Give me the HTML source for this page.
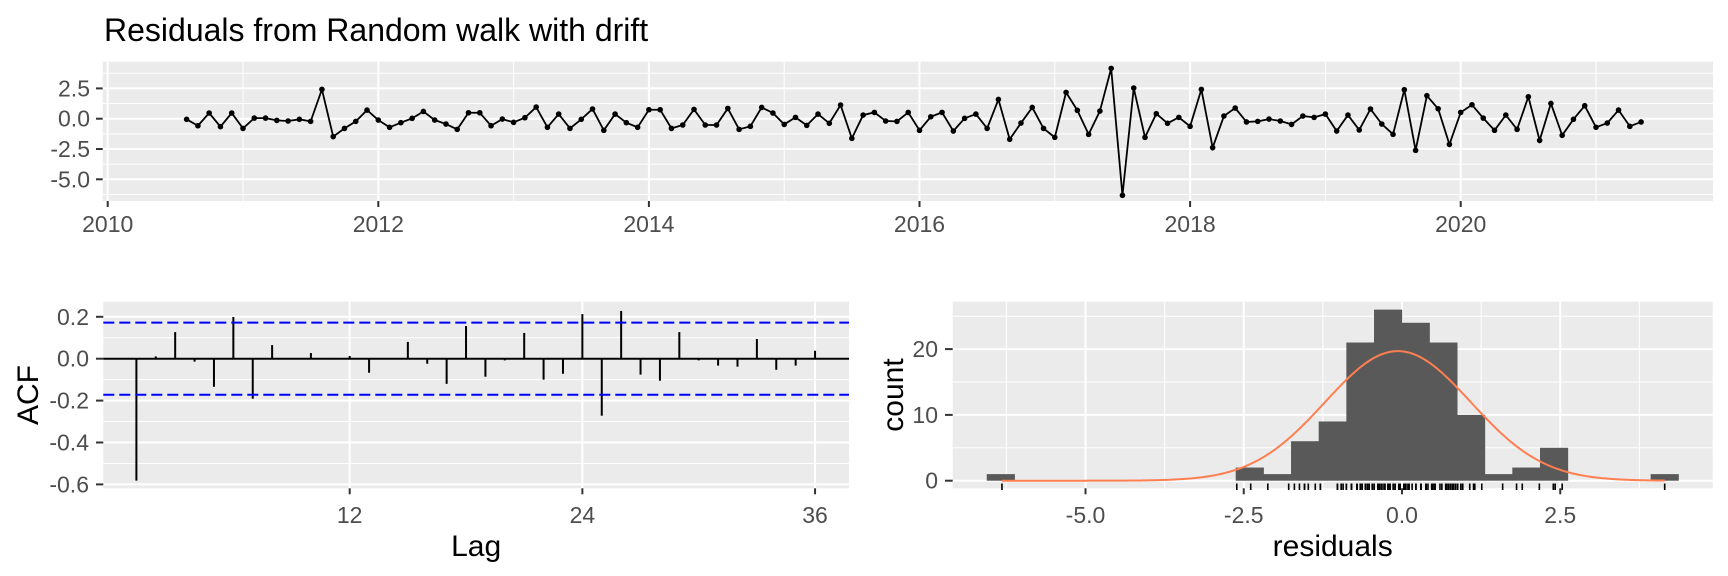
<!DOCTYPE html>
<html><head><meta charset="utf-8"><style>
html,body{margin:0;padding:0;background:#fff;}
svg{display:block;font-family:"Liberation Sans",Arial,sans-serif;}
</style></head><body>
<svg id="chart" width="1728" height="576" viewBox="0 0 1728 576" xmlns="http://www.w3.org/2000/svg">
<rect x="0" y="0" width="1728" height="576" fill="#fff"/>
<text x="104" y="41" font-size="32" fill="#000">Residuals from Random walk with drift</text>
<g id="top"></g><g id="acf"></g><g id="hist"></g>
</svg>
<script>
const residuals = [-0.05,-0.58,0.47,-0.66,0.47,-0.8,0.05,0.05,-0.14,-0.19,-0.05,-0.22,2.42,-1.48,-0.8,-0.22,0.71,-0.11,-0.71,-0.33,0.03,0.6,-0.11,-0.44,-0.88,0.49,0.49,-0.58,-0.03,-0.3,0.08,0.96,-0.71,0.38,-0.8,-0.05,0.8,-0.96,0.38,-0.33,-0.71,0.74,0.74,
-0.8,-0.52,0.77,-0.52,-0.52,0.85,-0.88,-0.63,0.93,0.47,-0.47,0.11,-0.55,0.38,-0.38,1.13,-1.62,0.3,0.52,-0.19,-0.22,0.52,-0.96,0.16,0.52,-1.02,0.03,0.38,-0.8,1.59,-1.7,-0.36,0.93,-0.8,-1.54,2.17,0.69,-1.29,0.63,4.15,-6.32,2.53,-1.54,0.41,-0.38,0.11,
-0.63,2.42,-2.39,0.22,0.88,-0.27,-0.22,-0.03,-0.19,-0.47,0.22,0.11,0.38,-1.02,0.3,-0.93,0.8,-0.44,-1.29,2.39,-2.61,1.9,0.82,-2.12,0.52,1.15,0.05,-0.96,0.3,-0.88,1.81,-1.79,1.26,-1.37,-0.05,1.07,-0.71,-0.36,0.71,-0.63,-0.27];
const startYear = 2010 + 7/12;
const yearTicks = [2010,2012,2014,2016,2018,2020];
const residTicks = [2.5,0,-2.5,-5];
const acfValues = [-0.582,0.011,0.127,-0.014,-0.134,0.199,-0.191,0.065,0.003,0.027,-0.004,0.013,-0.067,0.002,0.08,-0.024,-0.12,0.156,-0.086,-0.008,0.123,-0.1,-0.072,0.213,-0.272,0.228,-0.076,-0.105,0.127,-0.008,-0.033,-0.038,0.094,-0.053,-0.033,0.038];
const acfCI = 0.172;
const acfYTicks = [0.2,0,-0.2,-0.4,-0.6];
const lagTicks = [12,24,36];
const binStart = -6.56;
const binWidth = 0.437;
const binCounts = [1,0,0,0,0,0,0,0,0,2,1,6,9,21,26,24,21,10,1,2,5,0,0,0,1];
const countTicks = [0,10,20];
const residAxisTicks = [-5,-2.5,0,2.5];

const NS="http://www.w3.org/2000/svg";
function mk(parent,tag,attrs){const e=document.createElementNS(NS,tag);for(const k in attrs)e.setAttribute(k,attrs[k]);parent.appendChild(e);return e;}
function txt(parent,x,y,s,size,fill,anchor){const t=mk(parent,'text',{x:x,y:y,'font-size':size,fill:fill,'text-anchor':anchor});t.textContent=s;return t;}
const fmt1=v=>v.toFixed(1);
const TICK=23, TITLE=30;

// ---------- TOP PANEL ----------
(function(){
const g=document.getElementById('top');
const L=102.7,T=61.7,R=1713,B=201;
const sx=t=>107.7+(t-2010)*135.3;
const sy=v=>118.7-v*12.12;
const bg=mk(g,'rect',{x:L,y:T,width:R-L,height:B-T,fill:'#ebebeb'});


[3.75,1.25,-1.25,-3.75,-6.25].forEach(v=>mk(g,'line',{x1:L,x2:R,y1:sy(v),y2:sy(v),stroke:'#fff','stroke-width':1}));
[2011,2013,2015,2017,2019,2021].forEach(v=>mk(g,'line',{x1:sx(v),x2:sx(v),y1:T,y2:B,stroke:'#fff','stroke-width':1}));
residTicks.forEach(v=>{
 mk(g,'line',{x1:L,x2:R,y1:sy(v),y2:sy(v),stroke:'#fff','stroke-width':2});
 mk(g,'line',{x1:96,x2:L,y1:sy(v),y2:sy(v),stroke:'#333','stroke-width':2});
 const t=txt(g,90,sy(v)+8,fmt1(v),TICK,'#4d4d4d','end');
 
 
});
yearTicks.forEach(v=>{
 mk(g,'line',{x1:sx(v),x2:sx(v),y1:T,y2:B,stroke:'#fff','stroke-width':2});
 mk(g,'line',{x1:sx(v),x2:sx(v),y1:B,y2:B+6,stroke:'#333','stroke-width':2});
 const t=txt(g,sx(v),232,String(v),TICK,'#4d4d4d','middle');
 
 
});
const pts=residuals.map((v,i)=>[sx(startYear+i/12),sy(v)]);
const pl=mk(g,'polyline',{points:pts.map(p=>p.join(',')).join(' '),fill:'none',stroke:'#000','stroke-width':1.8});


pts.forEach(p=>{
 const c=mk(g,'circle',{cx:p[0],cy:p[1],r:2.8,fill:'#000'});
 
 
});
})();

// ---------- ACF PANEL ----------
(function(){
const g=document.getElementById('acf');
const L=103.3,T=301.7,R=849,B=488.3;
const sx=l=>136.4+(l-1)*19.39;
const sy=v=>358.7-v*209.5;
const bg=mk(g,'rect',{x:L,y:T,width:R-L,height:B-T,fill:'#ebebeb'});


[0.1,-0.1,-0.3,-0.5].forEach(v=>mk(g,'line',{x1:L,x2:R,y1:sy(v),y2:sy(v),stroke:'#fff','stroke-width':1}));
acfYTicks.forEach(v=>{
 mk(g,'line',{x1:L,x2:R,y1:sy(v),y2:sy(v),stroke:'#fff','stroke-width':2});
 mk(g,'line',{x1:96,x2:L,y1:sy(v),y2:sy(v),stroke:'#333','stroke-width':2});
 const t=txt(g,89,sy(v)+8,fmt1(v),TICK,'#4d4d4d','end');
 
 
});
lagTicks.forEach(v=>{
 mk(g,'line',{x1:sx(v),x2:sx(v),y1:T,y2:B,stroke:'#fff','stroke-width':2});
 mk(g,'line',{x1:sx(v),x2:sx(v),y1:B,y2:B+6,stroke:'#333','stroke-width':2});
 const t=txt(g,sx(v),523,String(v),TICK,'#4d4d4d','middle');
 
 
});
const z=mk(g,'line',{x1:L,x2:R,y1:sy(0),y2:sy(0),stroke:'#000','stroke-width':2});


acfValues.forEach((v,i)=>{
 const s=mk(g,'line',{x1:sx(i+1),x2:sx(i+1),y1:sy(0),y2:sy(v),stroke:'#000','stroke-width':2});
 
 
});
[acfCI,-acfCI].forEach(v=>{
 const d=mk(g,'line',{x1:L,x2:R,y1:sy(v),y2:sy(v),stroke:'#0000ff','stroke-width':2,'stroke-dasharray':'11,5'});
 
 
});
const lx=txt(g,(L+R)/2,556,'Lag',TITLE,'#000','middle');


const ly=txt(g,0,0,'ACF',TITLE,'#000','middle');
ly.setAttribute('transform','translate(38,'+((T+B)/2)+') rotate(-90)');


})();

// ---------- HISTOGRAM PANEL ----------
(function(){
const g=document.getElementById('hist');
const L=952.7,T=301.7,R=1712.7,B=488.3;
const sx=v=>1402+v*63.3;
const sy=c=>480.7-c*6.58;
const bg=mk(g,'rect',{x:L,y:T,width:R-L,height:B-T,fill:'#ebebeb'});


[5,15,25].forEach(v=>mk(g,'line',{x1:L,x2:R,y1:sy(v),y2:sy(v),stroke:'#fff','stroke-width':1}));
[-6.25,-3.75,-1.25,1.25,3.75].forEach(v=>mk(g,'line',{x1:sx(v),x2:sx(v),y1:T,y2:B,stroke:'#fff','stroke-width':1}));
countTicks.forEach(v=>{
 mk(g,'line',{x1:L,x2:R,y1:sy(v),y2:sy(v),stroke:'#fff','stroke-width':2});
 mk(g,'line',{x1:945,x2:L,y1:sy(v),y2:sy(v),stroke:'#333','stroke-width':2});
 const t=txt(g,938,sy(v)+8,String(v),TICK,'#4d4d4d','end');
 
 
});
residAxisTicks.forEach(v=>{
 mk(g,'line',{x1:sx(v),x2:sx(v),y1:T,y2:B,stroke:'#fff','stroke-width':2});
 mk(g,'line',{x1:sx(v),x2:sx(v),y1:B,y2:B+6,stroke:'#333','stroke-width':2});
 const t=txt(g,sx(v),523,fmt1(v),TICK,'#4d4d4d','middle');
 
 
});
binCounts.forEach((c,k)=>{
 if(c<=0)return;
 const x0=sx(binStart+k*binWidth),x1=sx(binStart+(k+1)*binWidth);
 const r=mk(g,'rect',{x:x0,y:sy(c),width:x1-x0+0.5,height:sy(0)-sy(c),fill:'#595959'});
 
 
});
const n=residuals.length;
const mean=residuals.reduce((a,b)=>a+b,0)/n;
const sd=Math.sqrt(residuals.reduce((a,b)=>a+(b-mean)*(b-mean),0)/(n-1));
const mn=Math.min(...residuals),mx=Math.max(...residuals);
const total=binCounts.reduce((a,b)=>a+b,0);
let d='';
for(let i=0;i<=300;i++){const x=mn+(mx-mn)*i/300;const y=total*binWidth*Math.exp(-0.5*((x-mean)/sd)**2)/(sd*Math.sqrt(2*Math.PI));d+=(i?'L':'M')+sx(x).toFixed(2)+','+sy(y).toFixed(2);}
const cv=mk(g,'path',{d:d,fill:'none',stroke:'#ff7f50','stroke-width':2});


residuals.forEach(v=>{
 const r=mk(g,'line',{x1:sx(v),x2:sx(v),y1:483.5,y2:490,stroke:'#000','stroke-width':1.6});
 
 
});
const lx=txt(g,(L+R)/2,556,'residuals',TITLE,'#000','middle');


const ly=txt(g,0,0,'count',TITLE,'#000','middle');
ly.setAttribute('transform','translate(903,'+((T+B)/2)+') rotate(-90)');


})();
</script>
</body></html>
